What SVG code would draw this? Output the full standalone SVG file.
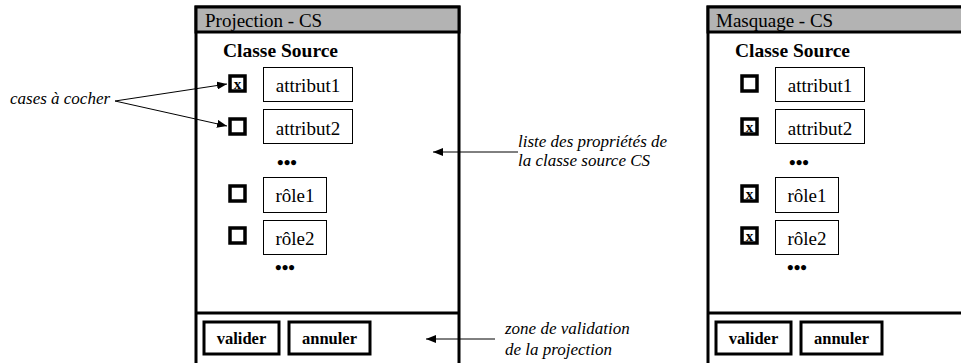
<svg xmlns="http://www.w3.org/2000/svg" width="961" height="363" viewBox="0 0 961 363" font-family="'Liberation Serif', 'Times New Roman', Times, 'DejaVu Serif', serif">
<defs>
<style>
text{font-family:'Liberation Serif','Times New Roman',Times,'DejaVu Serif',serif;fill:#000}
.title{font-size:19px}
.hdr{font-size:19.5px;font-weight:bold}
.lbl{font-size:19px}
.btn{font-size:16.5px;font-weight:bold}
.note{font-size:17px;font-style:italic}
.dots{font-size:19px;font-weight:bold}
.frame{fill:#fff;stroke:#000;stroke-width:3}
.bar{fill:#b3b3b3;stroke:#000;stroke-width:3}
.sep{stroke:#000;stroke-width:3}
.box{fill:#fff;stroke:#000;stroke-width:1}
.cb{fill:#fff;stroke:#000;stroke-width:3.5}
.bt{fill:#fff;stroke:#000;stroke-width:3}
.cx{font-size:15px;font-weight:bold}
.conn{stroke:#000;stroke-width:1;fill:none}
</style>
<marker id="ah" markerWidth="10" markerHeight="8" refX="10" refY="4" orient="auto" markerUnits="userSpaceOnUse">
<path d="M0,0 L10,4 L0,8 z" fill="#000"/>
</marker>
</defs>

<g id="panel-projection">
<rect class="frame" x="196" y="7" width="263" height="370"/>
<rect class="bar" x="196" y="7" width="263" height="25"/>
<text class="title" x="205" y="27">Projection - CS</text>
<text class="hdr" x="223" y="57">Classe Source</text>
<line class="sep" x1="196" y1="313" x2="459" y2="313"/>
<rect class="cb" x="230" y="76" width="15" height="15"/>
<text class="cx" x="237.5" y="88.5" text-anchor="middle">x</text>
<rect class="box" x="263.5" y="67.5" width="89" height="34"/>
<text class="lbl" x="308" y="92" text-anchor="middle">attribut1</text>
<rect class="cb" x="230" y="119" width="15" height="15"/>
<rect class="box" x="263.5" y="109.5" width="89" height="34"/>
<text class="lbl" x="308" y="135" text-anchor="middle">attribut2</text>
<text class="dots" x="287" y="169" text-anchor="middle">•••</text>
<rect class="cb" x="230" y="186" width="15" height="15"/>
<rect class="box" x="263.5" y="177.5" width="63" height="35"/>
<text class="lbl" x="295" y="202" text-anchor="middle">rôle1</text>
<rect class="cb" x="230" y="228" width="15" height="15"/>
<rect class="box" x="263.5" y="220.5" width="63" height="34"/>
<text class="lbl" x="295" y="245" text-anchor="middle">rôle2</text>
<text class="dots" x="285" y="274" text-anchor="middle">•••</text>
<rect class="bt" x="204" y="322" width="75" height="32"/>
<text class="btn" x="241.5" y="344" text-anchor="middle">valider</text>
<rect class="bt" x="289" y="322" width="81" height="32"/>
<text class="btn" x="329.5" y="344" text-anchor="middle">annuler</text>
</g>

<g id="panel-masquage">
<rect class="frame" x="708" y="7" width="270" height="370"/>
<rect class="bar" x="708" y="7" width="270" height="25"/>
<text class="title" x="716" y="27">Masquage - CS</text>
<text class="hdr" x="735" y="57">Classe Source</text>
<line class="sep" x1="708" y1="313" x2="961" y2="313"/>
<rect class="cb" x="742" y="76" width="15" height="15"/>
<rect class="box" x="775.5" y="67.5" width="89" height="34"/>
<text class="lbl" x="820" y="92" text-anchor="middle">attribut1</text>
<rect class="cb" x="742" y="119" width="15" height="15"/>
<text class="cx" x="749.5" y="131.5" text-anchor="middle">x</text>
<rect class="box" x="775.5" y="109.5" width="89" height="34"/>
<text class="lbl" x="820" y="135" text-anchor="middle">attribut2</text>
<text class="dots" x="799" y="169" text-anchor="middle">•••</text>
<rect class="cb" x="742" y="186" width="15" height="15"/>
<text class="cx" x="749.5" y="198.5" text-anchor="middle">x</text>
<rect class="box" x="775.5" y="177.5" width="63" height="35"/>
<text class="lbl" x="807" y="202" text-anchor="middle">rôle1</text>
<rect class="cb" x="742" y="228" width="15" height="15"/>
<text class="cx" x="749.5" y="240.5" text-anchor="middle">x</text>
<rect class="box" x="775.5" y="220.5" width="63" height="34"/>
<text class="lbl" x="807" y="245" text-anchor="middle">rôle2</text>
<text class="dots" x="797" y="274" text-anchor="middle">•••</text>
<rect class="bt" x="716" y="322" width="75" height="32"/>
<text class="btn" x="753.5" y="344" text-anchor="middle">valider</text>
<rect class="bt" x="801" y="322" width="81" height="32"/>
<text class="btn" x="841.5" y="344" text-anchor="middle">annuler</text>
</g>

<g id="note-cases">
<text class="note" x="10" y="104">cases à cocher</text>
</g>
<g id="note-liste">
<text class="note" x="518" y="147">liste des propriétés de</text>
<text class="note" x="518" y="166">la classe source CS</text>
</g>
<g id="note-zone">
<text class="note" x="505" y="334">zone de validation</text>
<text class="note" x="505" y="355">de la projection</text>
</g>

<g id="connectors">
<line class="conn" x1="115" y1="101" x2="227" y2="84" marker-end="url(#ah)"/>
<line class="conn" x1="115" y1="101" x2="227" y2="126" marker-end="url(#ah)"/>
<line class="conn" x1="518" y1="152" x2="433" y2="152" marker-end="url(#ah)"/>
<line class="conn" x1="495" y1="339" x2="426" y2="339" marker-end="url(#ah)"/>
</g>
</svg>
